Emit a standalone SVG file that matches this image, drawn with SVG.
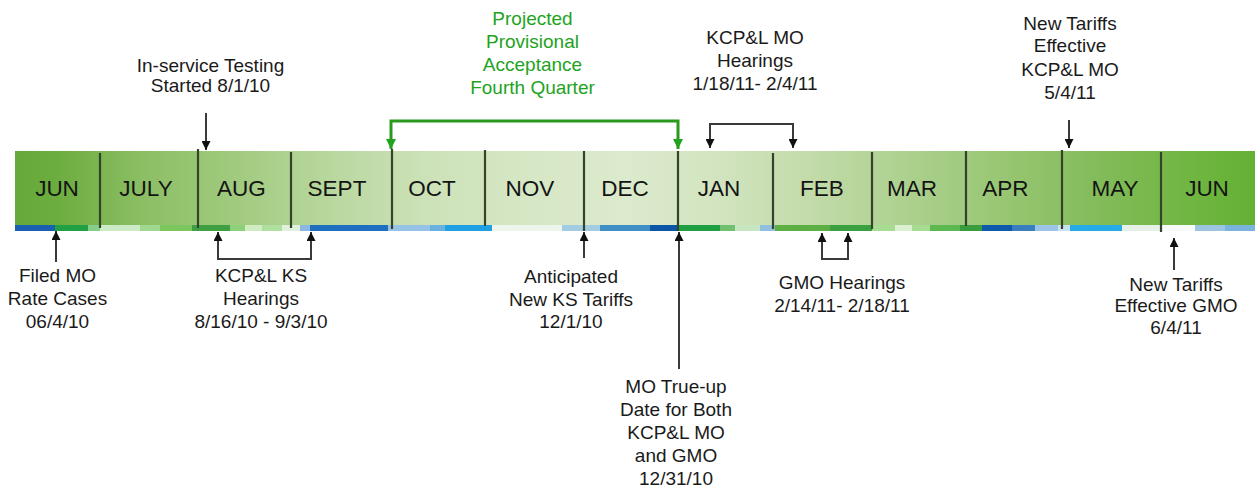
<svg xmlns="http://www.w3.org/2000/svg" width="1255" height="492" viewBox="0 0 1255 492">
<style>
.m{font-family:"Liberation Sans",Arial,sans-serif;font-size:22.5px;fill:#141414;text-anchor:middle}
.t{font-family:"Liberation Sans",Arial,sans-serif;font-size:19px;fill:#1a1a1a;text-anchor:middle}
.g{font-family:"Liberation Sans",Arial,sans-serif;font-size:19px;fill:#22a31e;text-anchor:middle}
.c{fill:none;stroke:#3a3a3a;stroke-width:2}
.cg{fill:none;stroke:#2a9a1e;stroke-width:3}
.d{stroke:#34432c;stroke-width:2.2}
</style>
<defs>
<linearGradient id="band" gradientUnits="userSpaceOnUse" x1="15" y1="0" x2="1255" y2="0">
<stop offset="0" stop-color="#66a93a"/>
<stop offset="0.034" stop-color="#6cad40"/>
<stop offset="0.106" stop-color="#8dbf65"/>
<stop offset="0.182" stop-color="#a2cb80"/>
<stop offset="0.26" stop-color="#bad8a0"/>
<stop offset="0.336" stop-color="#cde2b9"/>
<stop offset="0.415" stop-color="#d6e7c5"/>
<stop offset="0.492" stop-color="#dceacd"/>
<stop offset="0.568" stop-color="#d2e4bf"/>
<stop offset="0.651" stop-color="#c0daa6"/>
<stop offset="0.723" stop-color="#abd08d"/>
<stop offset="0.798" stop-color="#98c673"/>
<stop offset="0.887" stop-color="#7fba55"/>
<stop offset="0.961" stop-color="#6db53e"/>
<stop offset="1" stop-color="#64b034"/>
</linearGradient>
<marker id="ah" viewBox="0 0 10 10" refX="10" refY="5" markerWidth="9" markerHeight="9" markerUnits="userSpaceOnUse" orient="auto-start-reverse">
<path d="M0,0 L10,5 L0,10 z" fill="#111"/>
</marker>
<marker id="ahg" viewBox="0 0 10 10" refX="10" refY="5" markerWidth="10" markerHeight="10" markerUnits="userSpaceOnUse" orient="auto-start-reverse">
<path d="M0,0 L10,5 L0,10 z" fill="#22a31e"/>
</marker>
</defs>

<g id="timeline">
<rect x="15" y="151" width="1240" height="74" fill="url(#band)"/>
<g id="strip">
<rect x="15" y="225" width="40" height="6" fill="#1b5fb0"/>
<rect x="55" y="225" width="33" height="6" fill="#22a045"/>
<rect x="88" y="225" width="12" height="6" fill="#86cf8a"/>
<rect x="100" y="225" width="40" height="6" fill="#cdeac6"/>
<rect x="140" y="225" width="20" height="6" fill="#9fd98f"/>
<rect x="160" y="225" width="32" height="6" fill="#7cc65e"/>
<rect x="192" y="225" width="38" height="6" fill="#3fa043"/>
<rect x="230" y="225" width="15" height="6" fill="#8fd07a"/>
<rect x="245" y="225" width="17" height="6" fill="#d0ecc0"/>
<rect x="262" y="225" width="20" height="6" fill="#b0e0a0"/>
<rect x="282" y="225" width="18" height="6" fill="#e0f0dc"/>
<rect x="300" y="225" width="10" height="6" fill="#8ab8e0"/>
<rect x="310" y="225" width="78" height="6" fill="#1f6fc0"/>
<rect x="388" y="225" width="42" height="6" fill="#96c2e6"/>
<rect x="430" y="225" width="15" height="6" fill="#6ab0e0"/>
<rect x="445" y="225" width="47" height="6" fill="#1ea0e2"/>
<rect x="492" y="225" width="70" height="6" fill="#eef5ec"/>
<rect x="562" y="225" width="38" height="6" fill="#a3cbe2"/>
<rect x="600" y="225" width="50" height="6" fill="#3f8fc6"/>
<rect x="650" y="225" width="28" height="6" fill="#0b56a6"/>
<rect x="678" y="225" width="42" height="6" fill="#1f9f42"/>
<rect x="720" y="225" width="15" height="6" fill="#70c070"/>
<rect x="735" y="225" width="25" height="6" fill="#c5e6c0"/>
<rect x="760" y="225" width="15" height="6" fill="#90bfdf"/>
<rect x="775" y="225" width="55" height="6" fill="#5cb043"/>
<rect x="830" y="225" width="42" height="6" fill="#3aa040"/>
<rect x="872" y="225" width="23" height="6" fill="#a8dc90"/>
<rect x="895" y="225" width="17" height="6" fill="#daf0d0"/>
<rect x="912" y="225" width="18" height="6" fill="#a8dc90"/>
<rect x="930" y="225" width="30" height="6" fill="#5cb850"/>
<rect x="960" y="225" width="22" height="6" fill="#3a9d3d"/>
<rect x="982" y="225" width="30" height="6" fill="#0b5aab"/>
<rect x="1012" y="225" width="23" height="6" fill="#3a7ec0"/>
<rect x="1035" y="225" width="23" height="6" fill="#9cc4e6"/>
<rect x="1058" y="225" width="12" height="6" fill="#c8e2f2"/>
<rect x="1070" y="225" width="52" height="6" fill="#26abe6"/>
<rect x="1122" y="225" width="38" height="6" fill="#e6f0e6"/>
<rect x="1160" y="225" width="35" height="6" fill="#f8fafa"/>
<rect x="1195" y="225" width="30" height="6" fill="#9cc6e0"/>
<rect x="1225" y="225" width="30" height="6" fill="#7ab4dc"/>
</g>
<g id="dividers">
<line class="d" x1="100" y1="153" x2="100" y2="228"/>
<line class="d" x1="198" y1="149" x2="198" y2="228"/>
<line class="d" x1="291" y1="152" x2="291" y2="228"/>
<line class="d" x1="392" y1="149" x2="392" y2="229"/>
<line class="d" x1="485" y1="150" x2="485" y2="226"/>
<line class="d" x1="584" y1="151" x2="584" y2="231"/>
<line class="d" x1="678" y1="151" x2="678" y2="231"/>
<line class="d" x1="773" y1="153" x2="773" y2="229"/>
<line class="d" x1="872" y1="152" x2="872" y2="229"/>
<line class="d" x1="966" y1="151" x2="966" y2="226"/>
<line class="d" x1="1062" y1="150" x2="1062" y2="229"/>
<line class="d" x1="1161" y1="152" x2="1161" y2="232"/>
</g>
<g id="months">
<text class="m" x="57" y="196">JUN</text>
<text class="m" x="146" y="196">JULY</text>
<text class="m" x="241.5" y="196">AUG</text>
<text class="m" x="337" y="196">SEPT</text>
<text class="m" x="432" y="196">OCT</text>
<text class="m" x="530" y="196">NOV</text>
<text class="m" x="625" y="196">DEC</text>
<text class="m" x="719" y="196">JAN</text>
<text class="m" x="822" y="196">FEB</text>
<text class="m" x="912" y="196">MAR</text>
<text class="m" x="1005.5" y="196">APR</text>
<text class="m" x="1115" y="196">MAY</text>
<text class="m" x="1207" y="196">JUN</text>
</g>
</g>

<g id="connectors">
<path class="c" d="M206,113 V150" marker-end="url(#ah)"/>
<path class="cg" d="M391,149 V121 H678 V149" marker-start="url(#ahg)" marker-end="url(#ahg)"/>
<path class="c" d="M710,148 V124 H793 V148" marker-start="url(#ah)" marker-end="url(#ah)"/>
<path class="c" d="M1069,120 V148" marker-end="url(#ah)"/>
<path class="c" d="M56,262 V231" marker-end="url(#ah)"/>
<path class="c" d="M218,232 V259 H311 V232" marker-start="url(#ah)" marker-end="url(#ah)"/>
<path class="c" d="M584,258 V232" marker-end="url(#ah)"/>
<path class="c" d="M679,369 V232" marker-end="url(#ah)"/>
<path class="c" d="M822,233 V259 H848 V233" marker-start="url(#ah)" marker-end="url(#ah)"/>
<path class="c" d="M1174,270 V238" marker-end="url(#ah)"/>
</g>

<g id="inservice">
<text class="t" x="210.5" y="71.5">In-service Testing</text>
<text class="t" x="210.5" y="92">Started 8/1/10</text>
</g>
<g id="provisional">
<text class="g" x="532.5" y="25">Projected</text>
<text class="g" x="532.5" y="48">Provisional</text>
<text class="g" x="532.5" y="71">Acceptance</text>
<text class="g" x="532.5" y="94">Fourth Quarter</text>
</g>
<g id="kcpl-mo-hearings">
<text class="t" x="755" y="44">KCP&amp;L MO</text>
<text class="t" x="755" y="66.5">Hearings</text>
<text class="t" x="755" y="89.5">1/18/11- 2/4/11</text>
</g>
<g id="tariffs-kcpl-mo">
<text class="t" x="1070" y="30">New Tariffs</text>
<text class="t" x="1070" y="52">Effective</text>
<text class="t" x="1070" y="76">KCP&amp;L MO</text>
<text class="t" x="1070" y="98.5">5/4/11</text>
</g>
<g id="filed-mo">
<text class="t" x="57.5" y="282">Filed MO</text>
<text class="t" x="57.5" y="305">Rate Cases</text>
<text class="t" x="57.5" y="328">06/4/10</text>
</g>
<g id="kcpl-ks-hearings">
<text class="t" x="261" y="282">KCP&amp;L KS</text>
<text class="t" x="261" y="305">Hearings</text>
<text class="t" x="261" y="328">8/16/10 - 9/3/10</text>
</g>
<g id="ks-tariffs">
<text class="t" x="571" y="283">Anticipated</text>
<text class="t" x="571" y="305.5">New KS Tariffs</text>
<text class="t" x="571" y="328">12/1/10</text>
</g>
<g id="true-up">
<text class="t" x="676" y="393">MO True-up</text>
<text class="t" x="676" y="416">Date for Both</text>
<text class="t" x="676" y="439">KCP&amp;L MO</text>
<text class="t" x="676" y="462">and GMO</text>
<text class="t" x="676" y="485">12/31/10</text>
</g>
<g id="gmo-hearings">
<text class="t" x="842" y="288.5">GMO Hearings</text>
<text class="t" x="842" y="311.5">2/14/11- 2/18/11</text>
</g>
<g id="tariffs-gmo">
<text class="t" x="1176" y="290.5">New Tariffs</text>
<text class="t" x="1176" y="312">Effective GMO</text>
<text class="t" x="1176" y="334">6/4/11</text>
</g>
</svg>
